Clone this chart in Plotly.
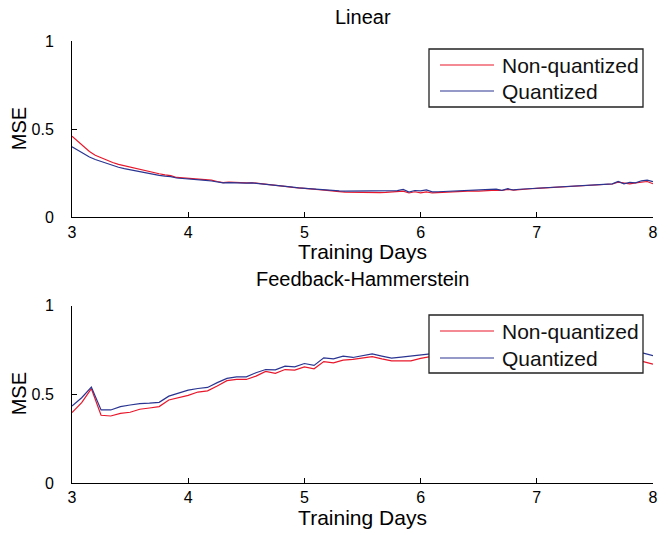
import numpy as np
import plotly.graph_objects as go

# ---------------- data ----------------
lin_days = np.round(np.arange(3.0, 8.0001, 0.05), 3)
lin_nonq = [0.460, 0.430, 0.398, 0.373, 0.352, 0.337, 0.324, 0.311, 0.300, 0.292,
            0.283, 0.275, 0.267, 0.260, 0.253, 0.247, 0.241, 0.236, 0.226, 0.224,
            0.222, 0.219, 0.217, 0.214, 0.211, 0.203, 0.197, 0.199, 0.197, 0.196,
            0.195, 0.196, 0.193, 0.190, 0.186, 0.181, 0.178, 0.174, 0.170, 0.166,
            0.163, 0.160, 0.158, 0.156, 0.154, 0.150, 0.146, 0.143, 0.142, 0.141,
            0.140, 0.139, 0.140, 0.140, 0.141, 0.142, 0.143, 0.148, 0.138, 0.145,
            0.139, 0.144, 0.138, 0.140, 0.141, 0.142, 0.143, 0.145, 0.147, 0.150,
            0.149, 0.151, 0.153, 0.154, 0.152, 0.158, 0.154, 0.158, 0.160, 0.162,
            0.164, 0.166, 0.168, 0.170, 0.171, 0.173, 0.175, 0.177, 0.179, 0.181,
            0.183, 0.185, 0.187, 0.189, 0.199, 0.193, 0.190, 0.195, 0.198, 0.203,
            0.190]
lin_quant = [0.400, 0.380, 0.358, 0.342, 0.328, 0.316, 0.305, 0.293, 0.284, 0.276,
             0.269, 0.262, 0.255, 0.248, 0.243, 0.238, 0.234, 0.231, 0.223, 0.221,
             0.219, 0.214, 0.212, 0.209, 0.206, 0.200, 0.195, 0.197, 0.195, 0.194,
             0.194, 0.195, 0.192, 0.190, 0.186, 0.182, 0.179, 0.175, 0.171, 0.167,
             0.164, 0.161, 0.159, 0.157, 0.155, 0.153, 0.150, 0.149, 0.149, 0.148,
             0.148, 0.148, 0.147, 0.148, 0.148, 0.149, 0.151, 0.158, 0.143, 0.152,
             0.150, 0.155, 0.144, 0.145, 0.146, 0.147, 0.148, 0.150, 0.152, 0.155,
             0.154, 0.155, 0.158, 0.160, 0.153, 0.162, 0.155, 0.159, 0.161, 0.162,
             0.164, 0.166, 0.168, 0.170, 0.171, 0.173, 0.175, 0.177, 0.179, 0.181,
             0.183, 0.185, 0.187, 0.190, 0.204, 0.190, 0.198, 0.195, 0.207, 0.211,
             0.202]

fh_days = np.round(3.0 + np.arange(61) / 12.0, 4)
fh_nonq = [0.397, 0.453, 0.532, 0.382, 0.378, 0.393, 0.399, 0.416, 0.423, 0.431,
           0.468, 0.481, 0.494, 0.513, 0.520, 0.547, 0.577, 0.584, 0.584, 0.603,
           0.629, 0.618, 0.640, 0.637, 0.655, 0.644, 0.685, 0.678, 0.693, 0.697,
           0.704, 0.713, 0.700, 0.689, 0.689, 0.689, 0.703, 0.713, 0.712, 0.715,
           0.718, 0.714, 0.720, 0.722, 0.718, 0.724, 0.726, 0.721, 0.725, 0.728,
           0.724, 0.722, 0.726, 0.720, 0.716, 0.712, 0.705, 0.700, 0.694, 0.685,
           0.670]
fh_quant = [0.434, 0.481, 0.541, 0.412, 0.412, 0.431, 0.440, 0.448, 0.450, 0.455,
            0.490, 0.509, 0.524, 0.533, 0.539, 0.566, 0.590, 0.599, 0.599, 0.622,
            0.640, 0.638, 0.659, 0.655, 0.674, 0.663, 0.706, 0.700, 0.715, 0.708,
            0.720, 0.728, 0.716, 0.704, 0.710, 0.717, 0.722, 0.728, 0.730, 0.732,
            0.735, 0.731, 0.737, 0.739, 0.735, 0.741, 0.743, 0.738, 0.742, 0.745,
            0.741, 0.739, 0.743, 0.740, 0.738, 0.741, 0.737, 0.739, 0.735, 0.732,
            0.718]

series_names = ["Non-quantized", "Quantized"]
x_ticks = [3, 4, 5, 6, 7, 8]
y_ticks = [0, 0.5, 1]
panel_titles = ["Linear", "Feedback-Hammerstein"]
x_label = "Training Days"
y_label = "MSE"

RED = "#e8172b"
BLUE = "#2a3592"
FONT = "Liberation Sans"

W, H = 672, 535
ML, MR, MT, MB = 72, 19, 41, 52
PW, PH = W - ML - MR, H - MT - MB


def pxx(p):
    return (p - ML) / PW


def pxy(p):
    return 1 - (p - MT) / PH


fig = go.Figure()
for xs, ys, col, nm, xa, ya in [
    (lin_days, lin_nonq, RED, series_names[0], "x", "y"),
    (lin_days, lin_quant, BLUE, series_names[1], "x", "y"),
    (fh_days, fh_nonq, RED, series_names[0], "x2", "y2"),
    (fh_days, fh_quant, BLUE, series_names[1], "x2", "y2"),
]:
    fig.add_trace(go.Scatter(x=xs, y=ys, mode="lines", name=nm, showlegend=False,
                             line=dict(color=col, width=1.2), xaxis=xa, yaxis=ya))

axis_common = dict(showline=True, linecolor="#000", linewidth=1, ticks="inside",
                   ticklen=5, tickcolor="#000", showgrid=False, zeroline=False,
                   tickfont=dict(size=16, color="#000", family=FONT), mirror=False)

xt = dict(axis_common, range=[3, 8], tickvals=x_ticks,
          title=dict(text=x_label, font=dict(size=21, color="#000", family=FONT), standoff=3))
yt = dict(axis_common, range=[0, 1], tickvals=y_ticks, ticklabelstandoff=14)

top_dom = [pxy(217.3), 1.0]
bot_dom = [0.0, pxy(305.7)]

shapes = []
annotations = [
    dict(text=panel_titles[0], xref="paper", yref="paper", x=0.5, y=top_dom[1], yshift=24,
         showarrow=False, font=dict(size=20, color="#000", family=FONT), yanchor="middle"),
    dict(text=panel_titles[1], xref="paper", yref="paper", x=0.5, y=bot_dom[1], yshift=27,
         showarrow=False, font=dict(size=20, color="#000", family=FONT), yanchor="middle"),
]
for dom in (top_dom, bot_dom):
    annotations.append(dict(text=y_label, xref="paper", yref="paper", x=pxx(19),
                            y=(dom[0] + dom[1]) / 2, textangle=-90, showarrow=False,
                            xanchor="center", yanchor="middle",
                            font=dict(size=20, color="#000", family=FONT)))

# manual legends (MATLAB style)
for top, bottom, l1, l2 in [(49, 107, 65, 91), (315, 373, 331, 358)]:
    shapes.append(dict(type="rect", xref="paper", yref="paper",
                       x0=pxx(429), x1=pxx(643), y0=pxy(bottom), y1=pxy(top),
                       line=dict(color="#222", width=1.3), fillcolor="white", layer="above"))
    for ly, col, nm in [(l1, RED, series_names[0]), (l2, BLUE, series_names[1])]:
        shapes.append(dict(type="line", xref="paper", yref="paper",
                           x0=pxx(440), x1=pxx(494), y0=pxy(ly), y1=pxy(ly),
                           line=dict(color=col, width=1.2), layer="above"))
        annotations.append(dict(text=nm, xref="paper", yref="paper", x=pxx(500), y=pxy(ly),
                                xanchor="left", yanchor="middle", showarrow=False,
                                font=dict(size=21, color="#111", family=FONT)))

fig.update_layout(
    width=W, height=H,
    margin=dict(l=ML, r=MR, t=MT, b=MB),
    paper_bgcolor="white", plot_bgcolor="white",
    font=dict(family=FONT, color="#000"),
    xaxis=dict(xt, domain=[0, 1], anchor="y"),
    yaxis=dict(yt, domain=top_dom, anchor="x"),
    xaxis2=dict(xt, domain=[0, 1], anchor="y2"),
    yaxis2=dict(yt, domain=bot_dom, anchor="x2"),
    showlegend=False,
    shapes=shapes,
    annotations=annotations,
)

fig.write_html("out.html", config={"displayModeBar": False},
               post_script="document.body.style.margin='0';")
